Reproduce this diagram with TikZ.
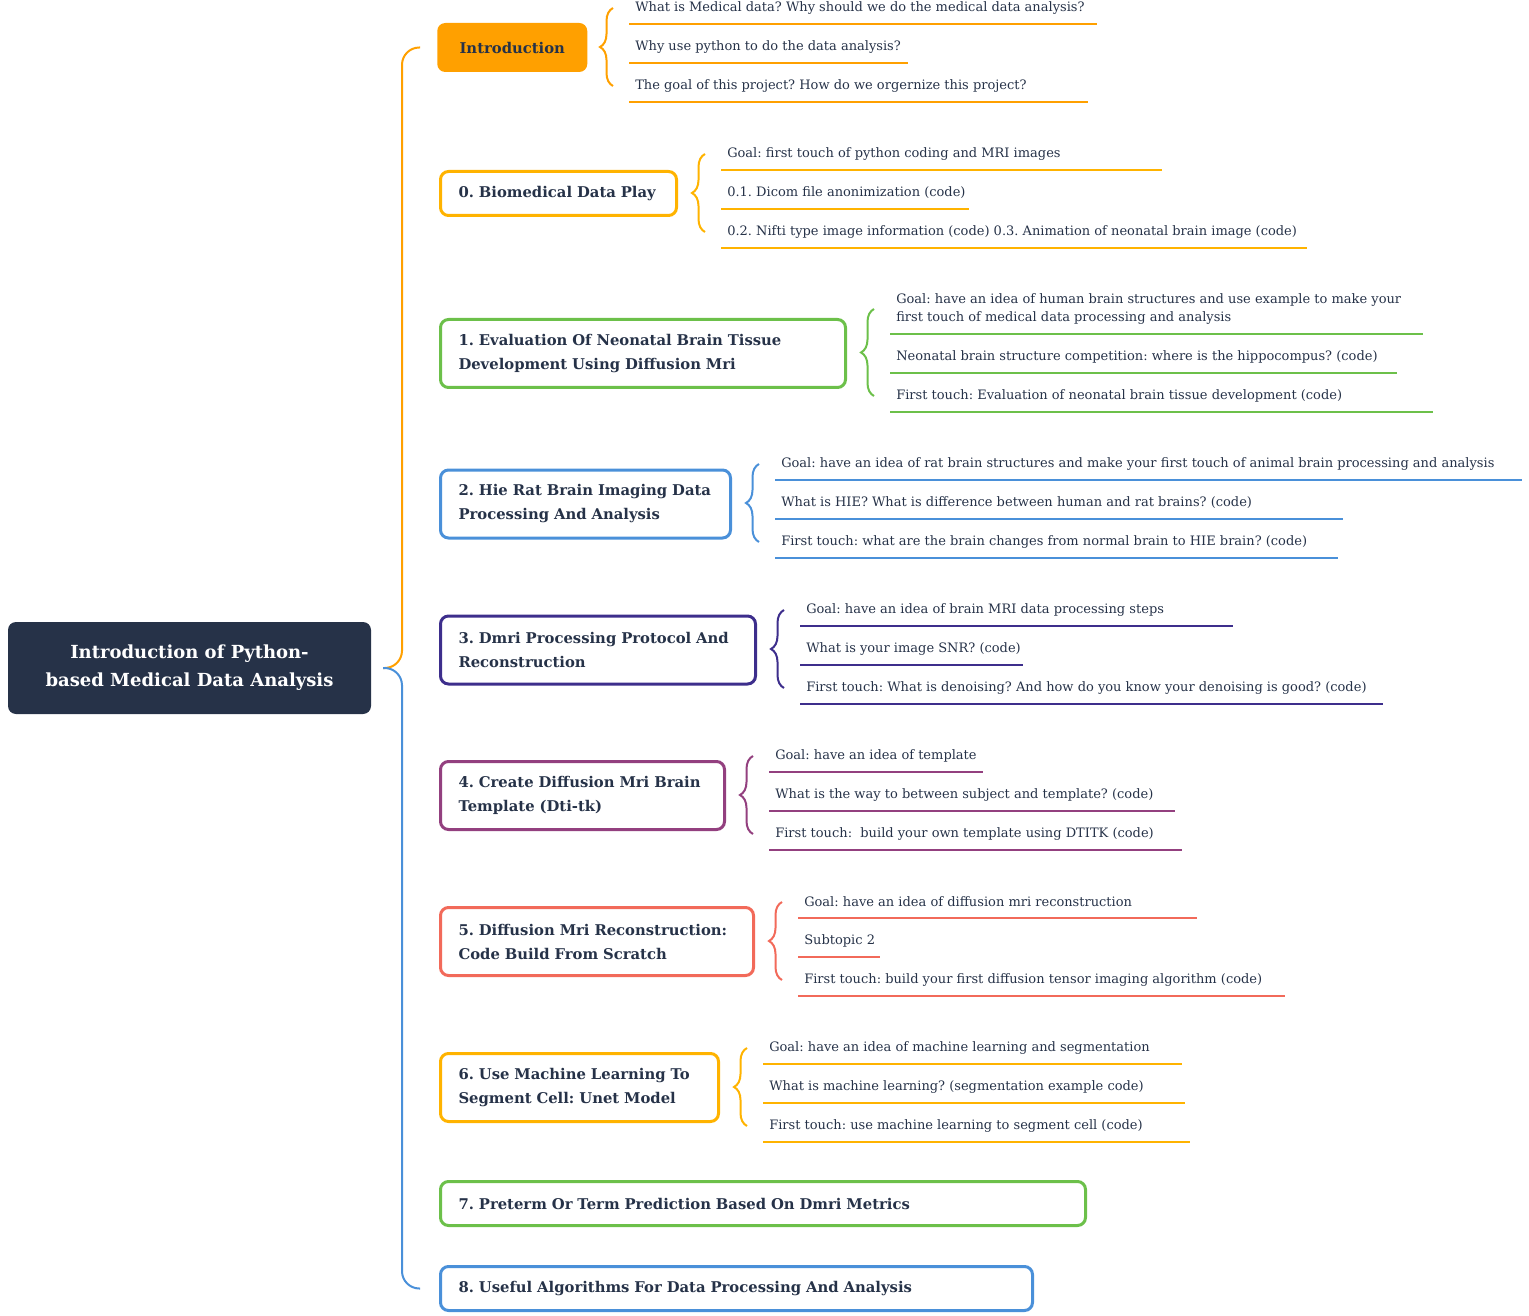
\documentclass[tikz,border=0pt]{standalone}
\usepackage{fontspec}
\setmainfont{DejaVu Serif}
\frenchspacing
\usetikzlibrary{decorations.pathreplacing}
\definecolor{ink}{RGB}{38,50,72}
\definecolor{introorange}{RGB}{255,160,0}
\definecolor{amber}{RGB}{255,179,0}
\definecolor{leafgreen}{RGB}{108,192,74}
\definecolor{skyblue}{RGB}{74,144,217}
\definecolor{indigo}{RGB}{61,46,140}
\definecolor{plum}{RGB}{147,64,127}
\definecolor{coral}{RGB}{242,106,90}
\begin{document}
\begin{tikzpicture}[x=0.75pt,y=-0.75pt,
  rootbox/.style={fill=ink,text=white,rounded corners=6pt,align=center,minimum width=272.25pt,minimum height=69pt,font=\bfseries\fontsize{13.5}{21}\selectfont},
  topic/.style={draw=#1,line width=2.25pt,rounded corners=6pt,anchor=west,align=left,text=ink,inner xsep=13.5pt,inner ysep=0pt,minimum height=51pt,font=\bfseries\fontsize{11.1}{18}\selectfont},
  sub/.style={anchor=west,align=left,text=ink,inner xsep=4.5pt,inner ysep=0pt,minimum height=24pt,font=\fontsize{9.75}{13.5}\selectfont},
  ul/.style={draw=#1,line width=1.5pt},
  brc/.style={draw=#1,line width=1.5pt,decorate,decoration={brace,amplitude=9.75pt,aspect=0.5}},
  spine/.style={draw=#1,line width=1.5pt,rounded corners=13pt}]
\useasboundingbox (0,0) rectangle (1529,1316);
\node[rootbox] (root) at (189.5,668) {Introduction of Python-\\based Medical Data Analysis};
\coordinate (fork) at (383,668);
\node[fill=introorange,text=ink,rounded corners=6pt,minimum width=112.5pt,minimum height=36.75pt,anchor=west,font=\bfseries\fontsize{11.1}{18}\selectfont] (intro) at (437,47.5) {Introduction};
\node[topic=amber,minimum height=33pt,text width=150pt] (b0) at (439,193.5) {0. Biomedical Data Play};
\node[topic=leafgreen,text width=276.75pt] (b1) at (439,353.5) {1. Evaluation Of Neonatal Brain Tissue\\Development Using Diffusion Mri};
\node[topic=skyblue,text width=190.5pt] (b2) at (439,504) {2. Hie Rat Brain Imaging Data\\Processing And Analysis};
\node[topic=indigo,text width=209.25pt] (b3) at (439,650) {3. Dmri Processing Protocol And\\Reconstruction};
\node[topic=plum,text width=186pt] (b4) at (439,795.5) {4. Create Diffusion Mri Brain\\Template (Dti-tk)};
\node[topic=coral,text width=207.75pt] (b5) at (439,941.5) {5. Diffusion Mri Reconstruction:\\Code Build From Scratch};
\node[topic=amber,text width=181.5pt] (b6) at (439,1087.5) {6. Use Machine Learning To\\Segment Cell: Unet Model};
\node[topic=leafgreen,minimum height=33pt,text width=456.75pt] (b7) at (439,1203.5) {7. Preterm Or Term Prediction Based On Dmri Metrics};
\node[topic=skyblue,minimum height=33pt,text width=417pt] (b8) at (439,1288.5) {8. Useful Algorithms For Data Processing And Analysis};
\draw[spine=introorange] (fork) -| ([xshift=-26.25pt]intro.west) -- ([xshift=-12.75pt]intro.west);
\draw[spine=skyblue] (fork) -| ([xshift=-27.75pt]b8.west) -- ([xshift=-14.25pt]b8.west);
\node[sub] (i1) at (629,8) {What is Medical data? Why should we do the medical data analysis?};
\node[sub] (i2) at (629,47) {Why use python to do the data analysis?};
\node[sub] (i3) at (629,86) {The goal of this project? How do we orgernize this project?};
\draw[ul=introorange] (i1.south west) -- ++(468,0);
\draw[ul=introorange] (i2.south west) -- ++(279,0);
\draw[ul=introorange] (i3.south west) -- ++(459,0);
\draw[brc=introorange] ([xshift=-12pt]i3.west) -- ([xshift=-12pt]i1.west);
\node[sub] (s01) at (721,154) {Goal: first touch of python coding and MRI images};
\node[sub] (s02) at (721,193) {0.1. Dicom file anonimization (code)};
\node[sub] (s03) at (721,232) {0.2. Nifti type image information (code) 0.3. Animation of neonatal brain image (code)};
\draw[ul=amber] (s01.south west) -- ++(441,0);
\draw[ul=amber] (s02.south west) -- ++(248,0);
\draw[ul=amber] (s03.south west) -- ++(586,0);
\draw[brc=amber] ([xshift=-12pt]s03.west) -- ([xshift=-12pt]s01.west);
\node[sub,minimum height=37.5pt] (s11) at (890,309) {Goal: have an idea of human brain structures and use example to make your\\first touch of medical data processing and analysis};
\node[sub] (s12) at (890,357) {Neonatal brain structure competition: where is the hippocompus? (code)};
\node[sub] (s13) at (890,396) {First touch: Evaluation of neonatal brain tissue development (code)};
\draw[ul=leafgreen] (s11.south west) -- ++(533,0);
\draw[ul=leafgreen] (s12.south west) -- ++(507,0);
\draw[ul=leafgreen] (s13.south west) -- ++(543,0);
\draw[brc=leafgreen] ([xshift=-12pt]s13.west) -- ([xshift=-12pt]s11.west);
\node[sub] (s21) at (775,464) {Goal: have an idea of rat brain structures and make your first touch of animal brain processing and analysis};
\node[sub] (s22) at (775,503) {What is HIE? What is difference between human and rat brains? (code)};
\node[sub] (s23) at (775,542) {First touch: what are the brain changes from normal brain to HIE brain? (code)};
\draw[ul=skyblue] (s21.south west) -- ++(747,0);
\draw[ul=skyblue] (s22.south west) -- ++(568,0);
\draw[ul=skyblue] (s23.south west) -- ++(563,0);
\draw[brc=skyblue] ([xshift=-12pt]s23.west) -- ([xshift=-12pt]s21.west);
\node[sub] (s31) at (800,610) {Goal: have an idea of brain MRI data processing steps};
\node[sub] (s32) at (800,649) {What is your image SNR? (code)};
\node[sub] (s33) at (800,688) {First touch: What is denoising? And how do you know your denoising is good? (code)};
\draw[ul=indigo] (s31.south west) -- ++(433,0);
\draw[ul=indigo] (s32.south west) -- ++(223,0);
\draw[ul=indigo] (s33.south west) -- ++(583,0);
\draw[brc=indigo] ([xshift=-12pt]s33.west) -- ([xshift=-12pt]s31.west);
\node[sub] (s41) at (769,756) {Goal: have an idea of template};
\node[sub] (s42) at (769,795) {What is the way to between subject and template? (code)};
\node[sub] (s43) at (769,834) {First touch: \ build your own template using DTITK (code)};
\draw[ul=plum] (s41.south west) -- ++(214,0);
\draw[ul=plum] (s42.south west) -- ++(406,0);
\draw[ul=plum] (s43.south west) -- ++(413,0);
\draw[brc=plum] ([xshift=-12pt]s43.west) -- ([xshift=-12pt]s41.west);
\node[sub] (s51) at (798,902) {Goal: have an idea of diffusion mri reconstruction};
\node[sub] (s52) at (798,941) {Subtopic 2};
\node[sub] (s53) at (798,980) {First touch: build your first diffusion tensor imaging algorithm (code)};
\draw[ul=coral] (s51.south west) -- ++(399,0);
\draw[ul=coral] (s52.south west) -- ++(82,0);
\draw[ul=coral] (s53.south west) -- ++(487,0);
\draw[brc=coral] ([xshift=-12pt]s53.west) -- ([xshift=-12pt]s51.west);
\node[sub] (s61) at (763,1048) {Goal: have an idea of machine learning and segmentation};
\node[sub] (s62) at (763,1087) {What is machine learning? (segmentation example code)};
\node[sub] (s63) at (763,1126) {First touch: use machine learning to segment cell (code)};
\draw[ul=amber] (s61.south west) -- ++(419,0);
\draw[ul=amber] (s62.south west) -- ++(422,0);
\draw[ul=amber] (s63.south west) -- ++(427,0);
\draw[brc=amber] ([xshift=-12pt]s63.west) -- ([xshift=-12pt]s61.west);
\end{tikzpicture}
\end{document}
